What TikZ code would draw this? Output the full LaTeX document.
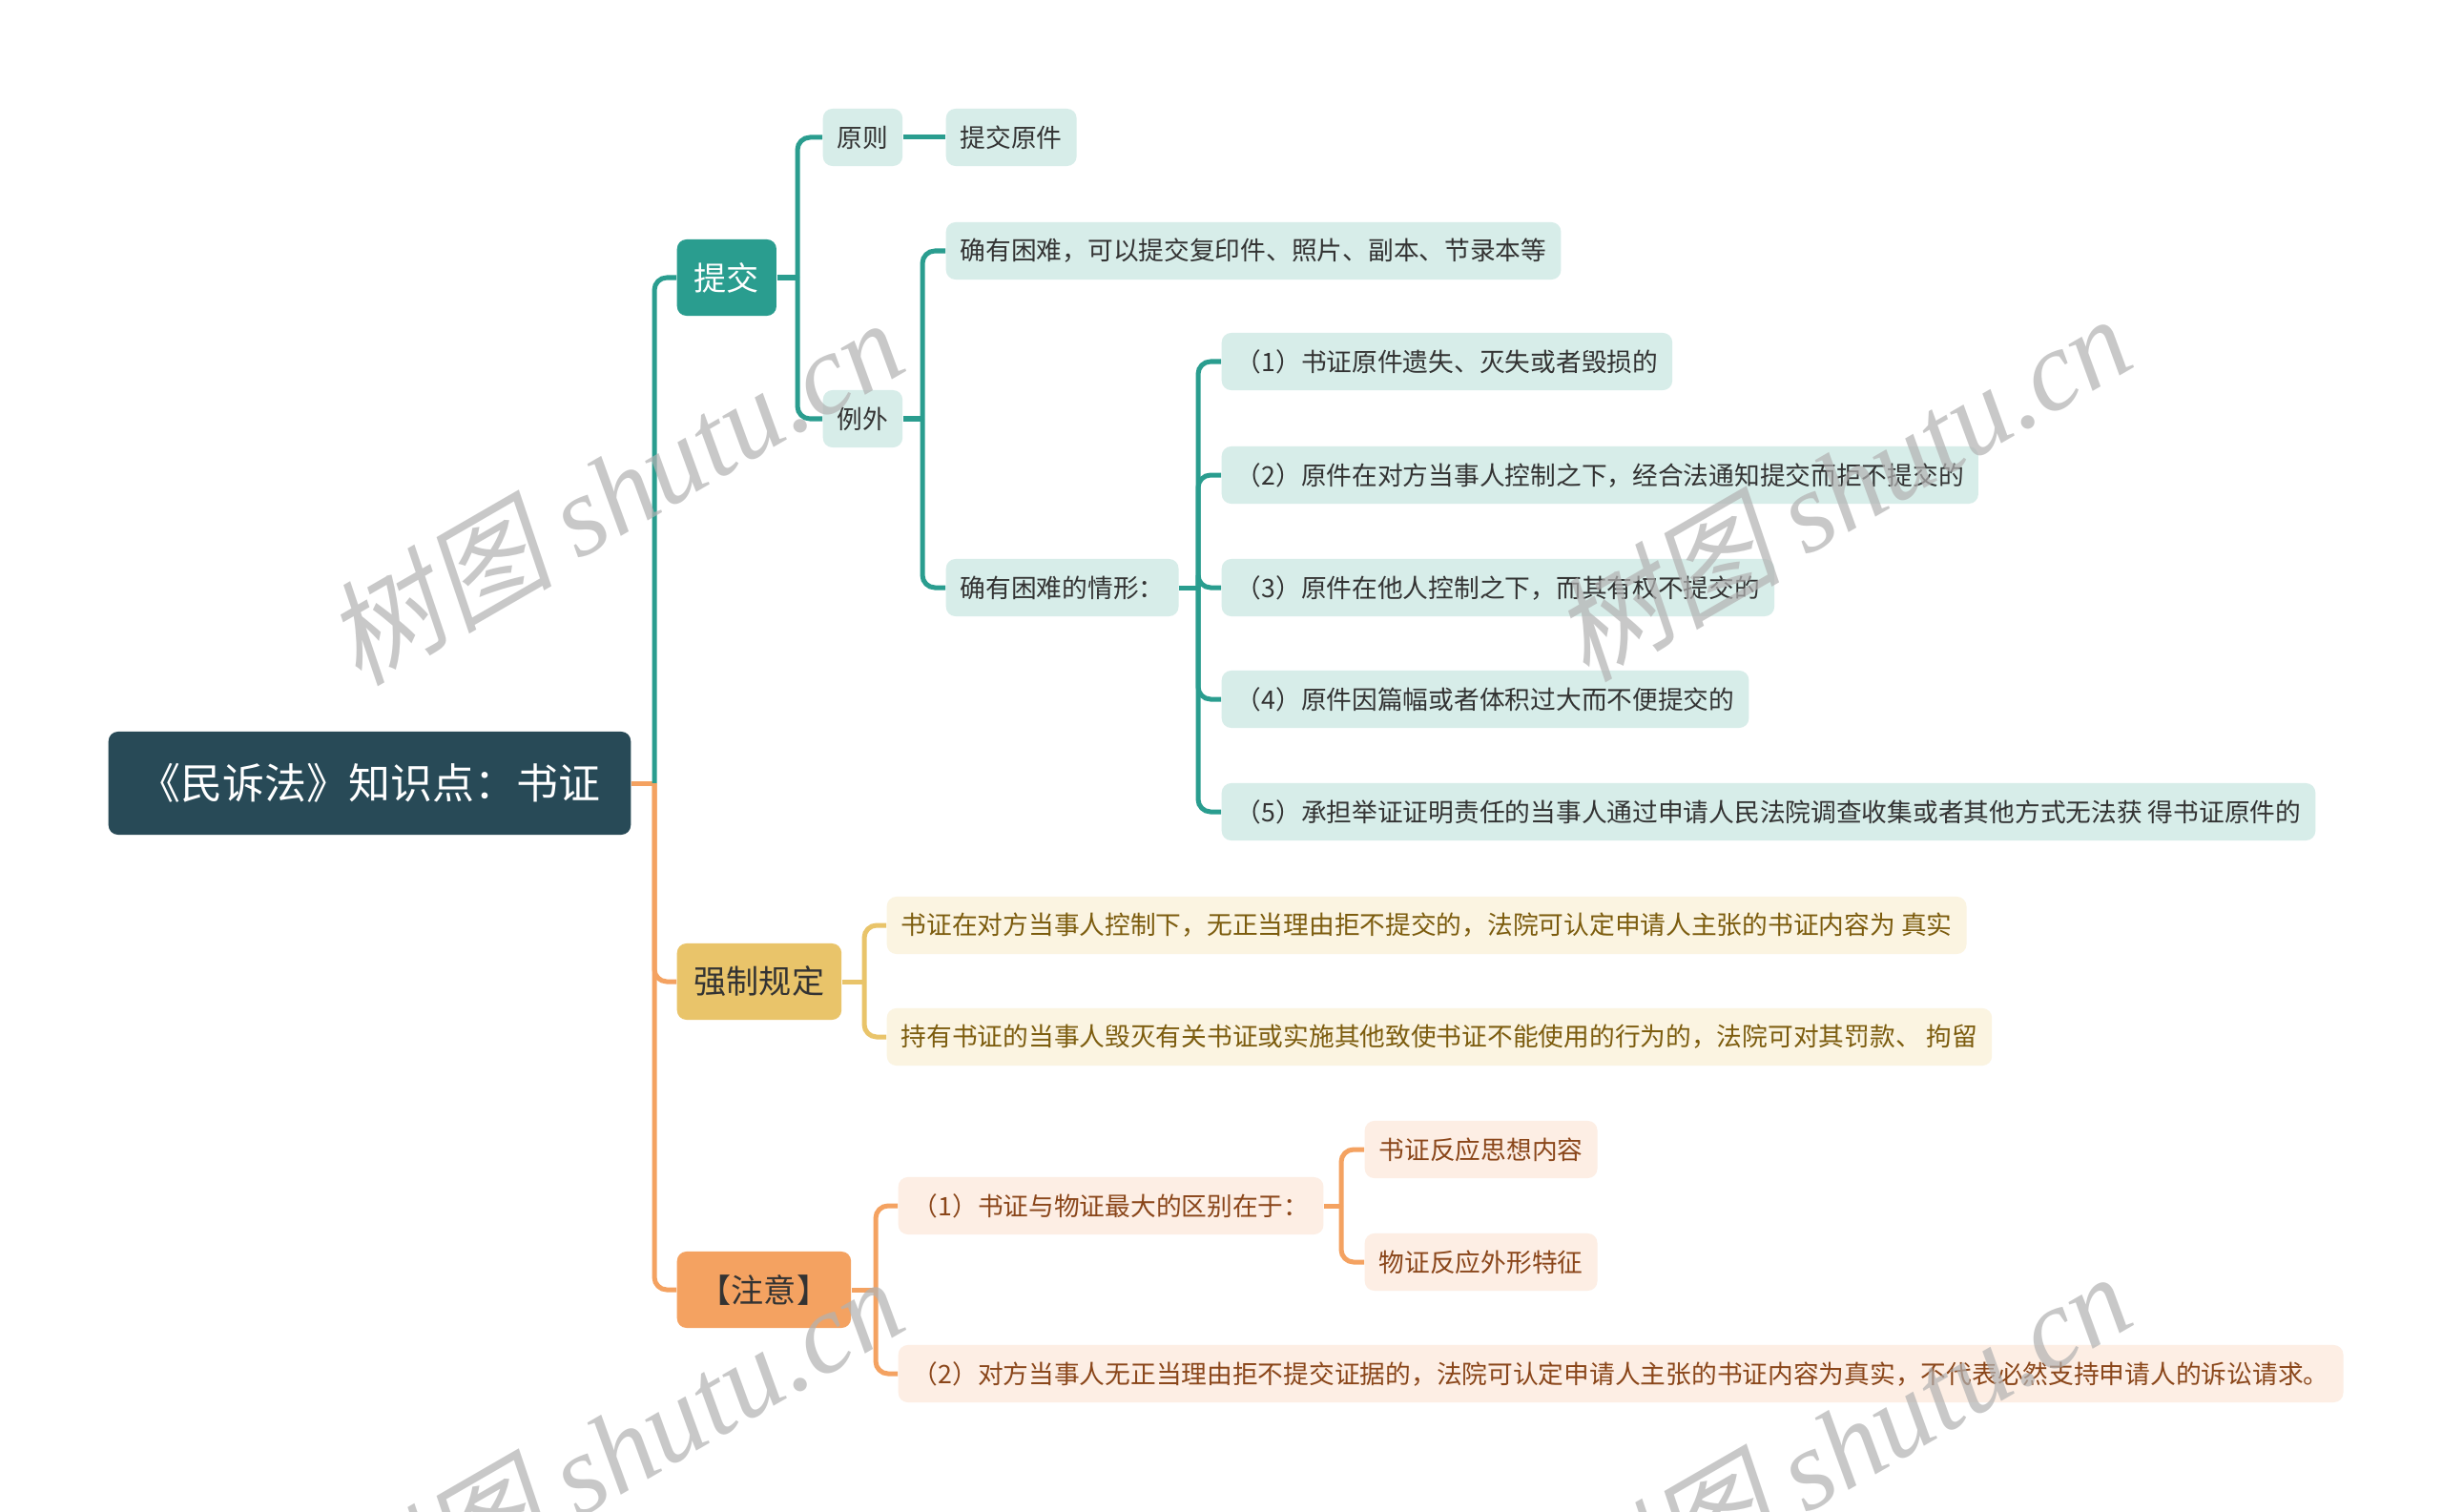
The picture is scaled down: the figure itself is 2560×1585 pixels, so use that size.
\documentclass[tikz,border=0pt]{standalone}
\usepackage{fontspec}
\setmainfont{Noto Sans CJK SC}
\newfontfamily\wmcjk[FakeSlant=0.2]{Noto Sans CJK SC}
\newfontfamily\wmlat{Liberation Serif}
\definecolor{rootc}{HTML}{284A57}
\definecolor{tealc}{HTML}{2A9D8F}
\definecolor{teall}{HTML}{D7EDE9}
\definecolor{yelc}{HTML}{E9C46A}
\definecolor{yell}{HTML}{FBF4E1}
\definecolor{yelt}{HTML}{7C5C0E}
\definecolor{orac}{HTML}{F4A261}
\definecolor{oral}{HTML}{FDEEE4}
\definecolor{orat}{HTML}{8A461A}
\definecolor{darkt}{HTML}{333333}
\tikzset{
  box/.style={anchor=west, rounded corners=0.1cm, inner ysep=0pt},
  rootbox/.style={box, fill=rootc, text=white, minimum height=1.08cm, inner xsep=0.32cm, font=\fontsize{12.5}{14}\selectfont},
  branchbox/.style={box, minimum height=0.8cm, inner xsep=0.18cm, font=\fontsize{9.7}{11}\selectfont},
  leafbox/.style={box, minimum height=0.6cm, inner xsep=0.15cm, font=\fontsize{7.6}{9}\selectfont},
  tleaf/.style={leafbox, fill=teall, text=darkt},
  yleaf/.style={leafbox, fill=yell, text=yelt},
  oleaf/.style={leafbox, fill=oral, text=orat},
  conn/.style={line width=0.05cm, rounded corners=0.13cm},
  tline/.style={conn, draw=tealc},
  yline/.style={conn, draw=yelc},
  oline/.style={conn, draw=orac},
  wm/.style={text=black!30, opacity=0.7, font=\fontsize{34}{36}\selectfont, inner sep=0pt}
}
\begin{document}
\begin{tikzpicture}[x=0.01cm,y=-0.01cm]
\useasboundingbox[fill=white] (0,0) rectangle (2560,1585);

% nodes
\node[rootbox] (root) at (113,821) {《民诉法》知识点：书证};
\node[branchbox, fill=tealc, text=white] (tj) at (709,291) {提交};
\node[tleaf] (yz) at (862,144) {原则};
\node[tleaf] (tjyj) at (991,144) {提交原件};
\node[tleaf] (lw) at (862,439) {例外};
\node[tleaf] (qy) at (991,263) {确有困难，可以提交复印件、照片、副本、节录本等};
\node[tleaf] (qx) at (991,616) {确有困难的情形：};
\node[tleaf] (q1) at (1280,379) {（1）书证原件遗失、灭失或者毁损的};
\node[tleaf] (q2) at (1280,498) {（2）原件在对方当事人控制之下，经合法通知提交而拒不提交的};
\node[tleaf] (q3) at (1280,616) {（3）原件在他人控制之下，而其有权不提交的};
\node[tleaf] (q4) at (1280,733) {（4）原件因篇幅或者体积过大而不便提交的};
\node[tleaf] (q5) at (1280,851) {（5）承担举证证明责任的当事人通过申请人民法院调查收集或者其他方式无法获 得书证原件的};

\node[branchbox, fill=yelc, text=darkt] (qz) at (709,1029) {强制规定};
\node[yleaf] (y1) at (929,970) {书证在对方当事人控制下，无正当理由拒不提交的，法院可认定申请人主张的书证内容为 真实};
\node[yleaf] (y2) at (929,1087) {持有书证的当事人毁灭有关书证或实施其他致使书证不能使用的行为的，法院可对其罚款、 拘留};

\node[branchbox, fill=orac, text=darkt, inner xsep=0.23cm] (zy) at (709,1352) {【注意】};
\node[oleaf] (o1) at (941,1264) {（1）书证与物证最大的区别在于：};
\node[oleaf] (o11) at (1430,1205) {书证反应思想内容};
\node[oleaf] (o12) at (1430,1323) {物证反应外形特征};
\node[oleaf] (o2) at (941,1440) {（2）对方当事人无正当理由拒不提交证据的，法院可认定申请人主张的书证内容为真实，不代表必然支持申请人的诉讼请求。};

% trunk x positions
\coordinate (t0) at (686,0);
\coordinate (t1) at (836,0);
\coordinate (t2) at (967,0);
\coordinate (t3) at (1256,0);
\coordinate (t4) at (906,0);
\coordinate (t5) at (918,0);
\coordinate (t6) at (1406,0);

% root connectors
\draw[oline] (root.east) -- (root.east -| t0);
\draw[tline] (root.east -| t0) -- (tj.west -| t0) -- (tj.west);
\draw[oline] (root.east -| t0) -- (qz.west -| t0) -- (qz.west);
\draw[oline] (root.east -| t0) -- (zy.west -| t0) -- (zy.west);

% 提交
\draw[tline] (tj.east) -- (tj.east -| t1);
\draw[tline] (tj.east -| t1) -- (yz.west -| t1) -- (yz.west);
\draw[tline] (tj.east -| t1) -- (lw.west -| t1) -- (lw.west);
\draw[tline] (yz.east) -- (tjyj.west);

% 例外
\draw[tline] (lw.east) -- (lw.east -| t2);
\draw[tline] (lw.east -| t2) -- (qy.west -| t2) -- (qy.west);
\draw[tline] (lw.east -| t2) -- (qx.west -| t2) -- (qx.west);

% 情形
\draw[tline] (qx.east) -- (qx.east -| t3);
\foreach \n in {q1,q2,q3,q4,q5}{
  \draw[tline] (qx.east -| t3) -- (\n.west -| t3) -- (\n.west);
}

% 强制规定
\draw[yline] (qz.east) -- (qz.east -| t4);
\draw[yline] (qz.east -| t4) -- (y1.west -| t4) -- (y1.west);
\draw[yline] (qz.east -| t4) -- (y2.west -| t4) -- (y2.west);

% 注意
\draw[oline] (zy.east) -- (zy.east -| t5);
\draw[oline] (zy.east -| t5) -- (o1.west -| t5) -- (o1.west);
\draw[oline] (zy.east -| t5) -- (o2.west -| t5) -- (o2.west);
\draw[oline] (o1.east) -- (o1.east -| t6);
\draw[oline] (o1.east -| t6) -- (o11.west -| t6) -- (o11.west);
\draw[oline] (o1.east -| t6) -- (o12.west -| t6) -- (o12.west);

% watermarks
\node[wm, rotate=30] (wm1) at (643,514) {{\wmcjk 树图} {\wmlat\itshape shutu.cn}};
\node[wm, rotate=30] (wm2) at (1930,510) {{\wmcjk 树图} {\wmlat\itshape shutu.cn}};
\node[wm, rotate=30] (wm3) at (643,1519) {{\wmcjk 树图} {\wmlat\itshape shutu.cn}};
\node[wm, rotate=30] (wm4) at (1930,1514) {{\wmcjk 树图} {\wmlat\itshape shutu.cn}};
\end{tikzpicture}
\end{document}
